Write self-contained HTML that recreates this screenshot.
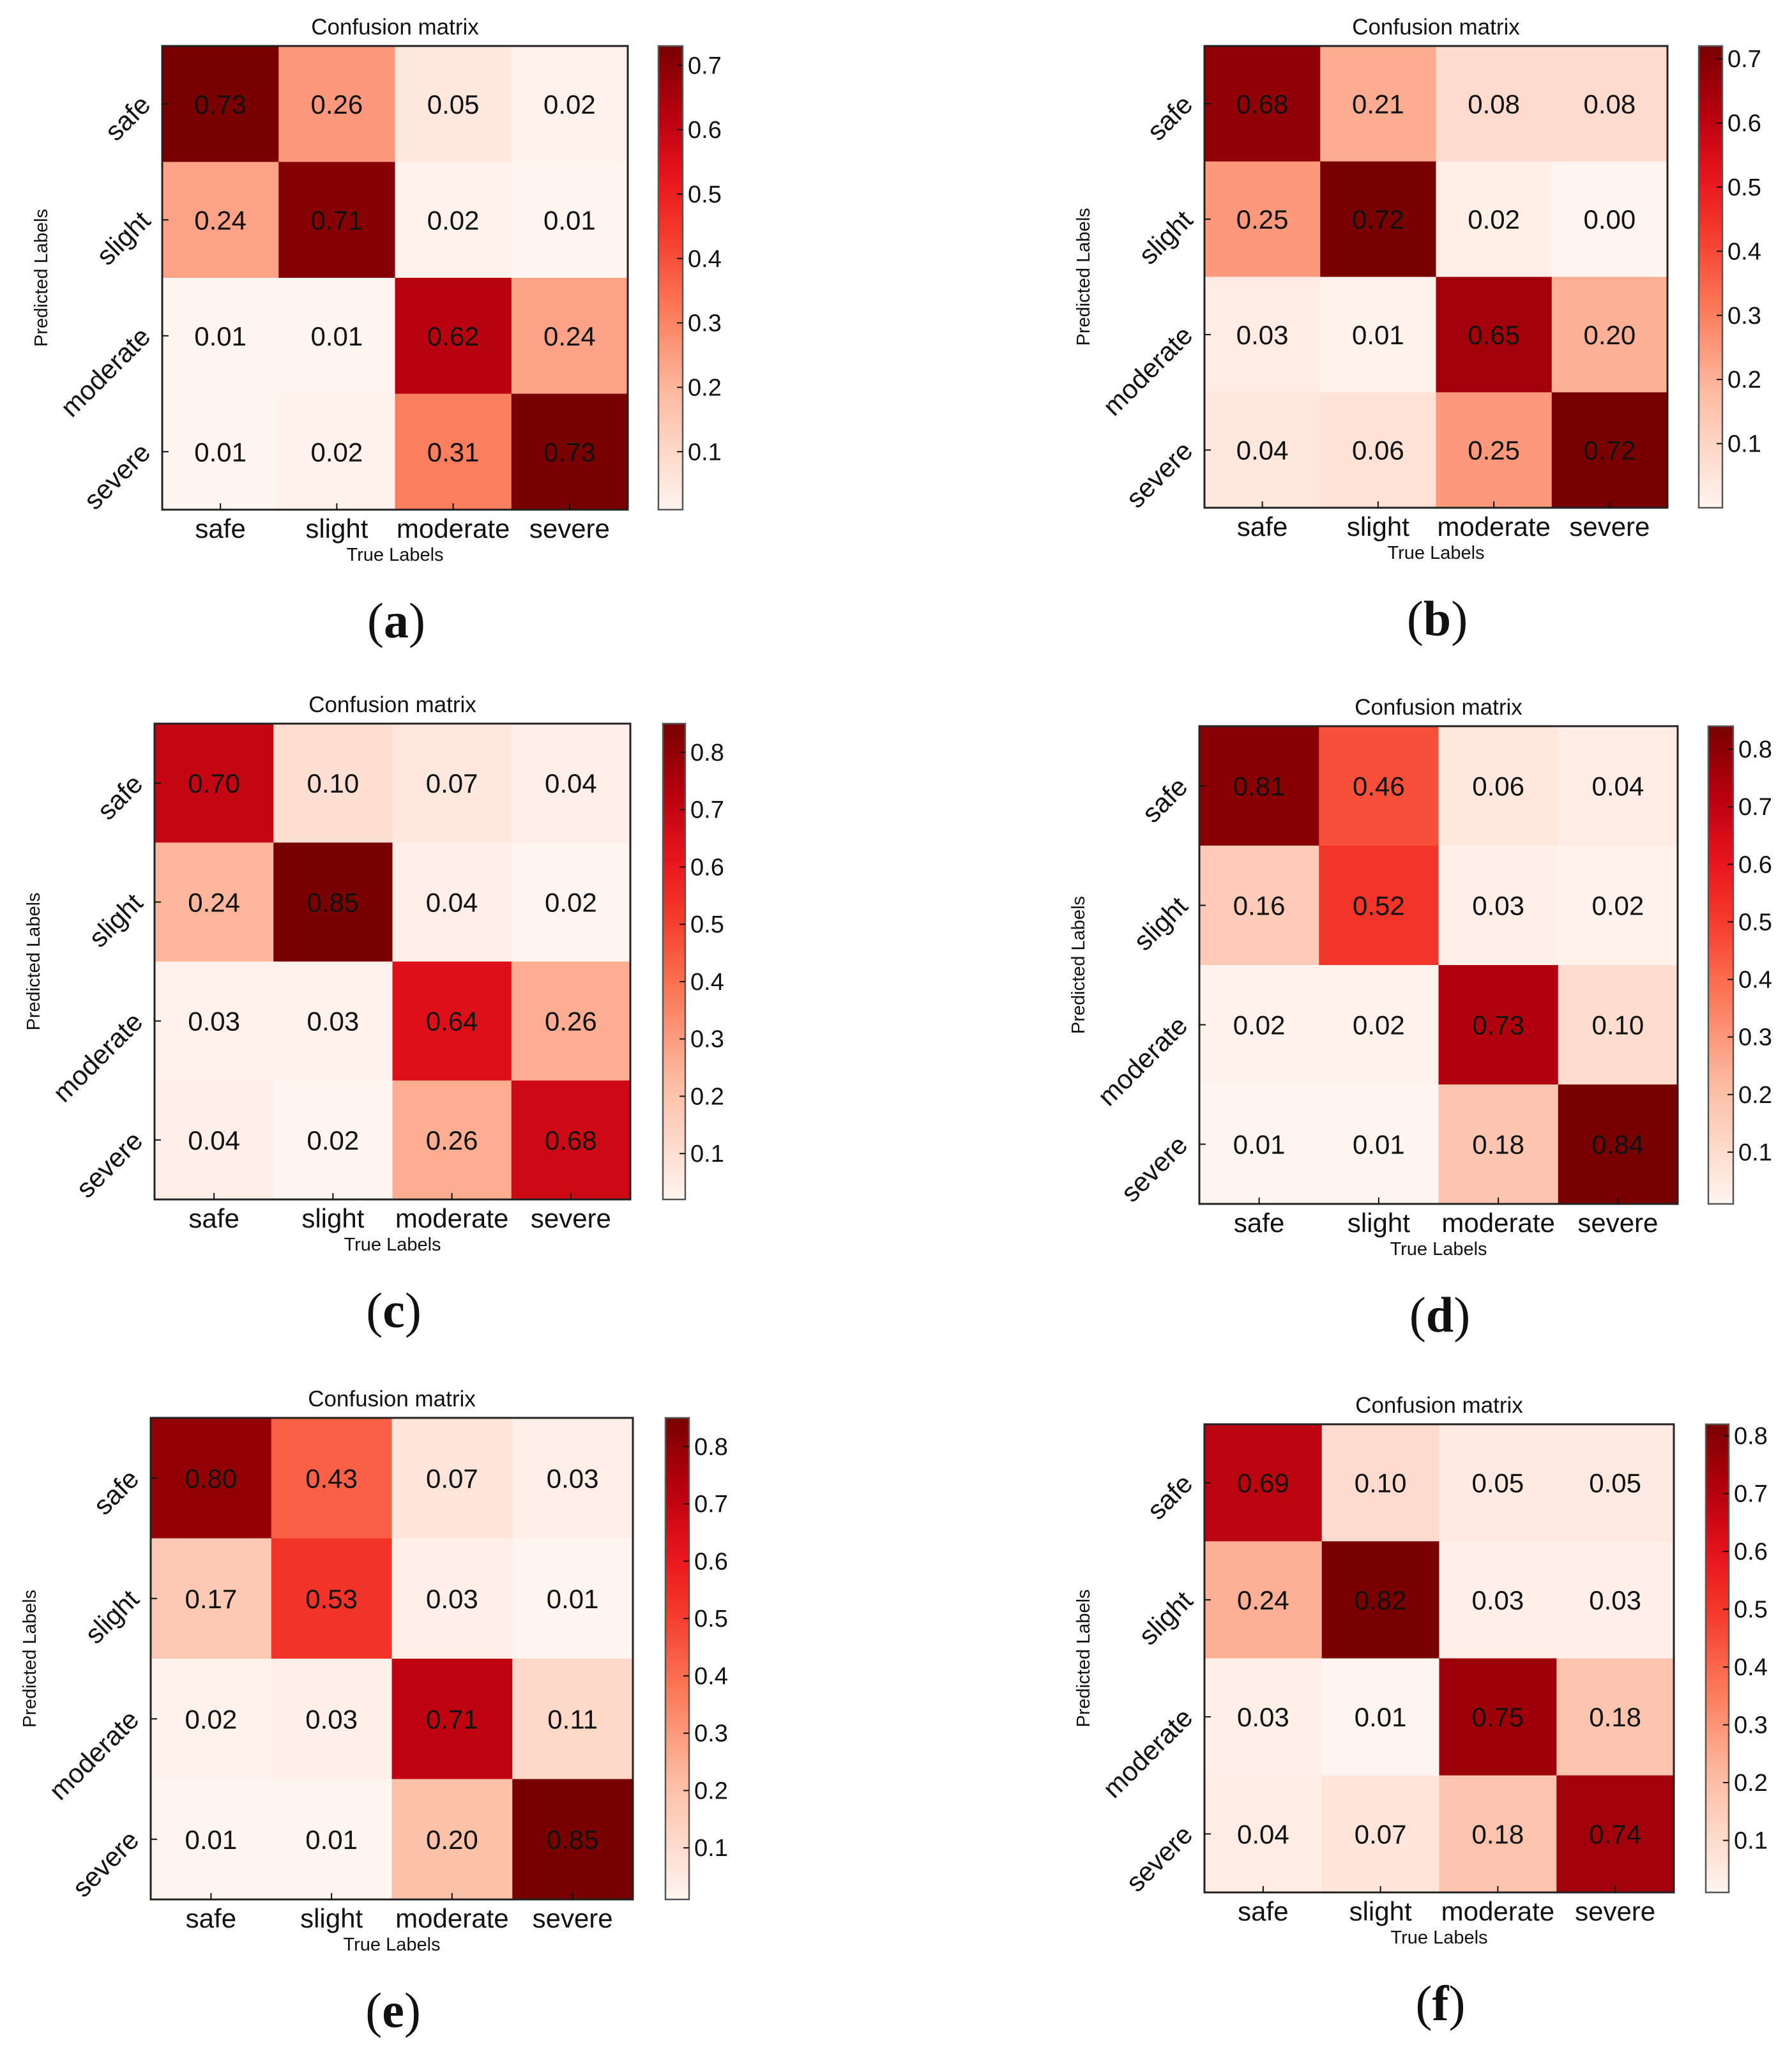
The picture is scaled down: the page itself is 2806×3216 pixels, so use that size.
<!DOCTYPE html>
<html><head><meta charset="utf-8"><style>
html,body{margin:0;padding:0;background:#fff;}
svg{display:block;}
text{font-family:"Liberation Sans","DejaVu Sans",sans-serif;fill:#111;}
</style></head><body>
<svg id="fig" width="2806" height="3216" viewBox="0 0 2806 3216" xmlns="http://www.w3.org/2000/svg"></svg>
<script>
const categories = ["safe","slight","moderate","severe"];
const dataA = [[0.73,0.26,0.05,0.02],[0.24,0.71,0.02,0.01],[0.01,0.01,0.62,0.24],[0.01,0.02,0.31,0.73]];
const dataB = [[0.68,0.21,0.08,0.08],[0.25,0.72,0.02,0.00],[0.03,0.01,0.65,0.20],[0.04,0.06,0.25,0.72]];
const dataC = [[0.70,0.10,0.07,0.04],[0.24,0.85,0.04,0.02],[0.03,0.03,0.64,0.26],[0.04,0.02,0.26,0.68]];
const dataD = [[0.81,0.46,0.06,0.04],[0.16,0.52,0.03,0.02],[0.02,0.02,0.73,0.10],[0.01,0.01,0.18,0.84]];
const dataE = [[0.80,0.43,0.07,0.03],[0.17,0.53,0.03,0.01],[0.02,0.03,0.71,0.11],[0.01,0.01,0.20,0.85]];
const dataF = [[0.69,0.10,0.05,0.05],[0.24,0.82,0.03,0.03],[0.03,0.01,0.75,0.18],[0.04,0.07,0.18,0.74]];
const ticksAB = [0.1,0.2,0.3,0.4,0.5,0.6,0.7];
const ticksCF = [0.1,0.2,0.3,0.4,0.5,0.6,0.7,0.8];
const panelLetters = ["a","b","c","d","e","f"];

const layout = [
 {d:dataA,t:ticksAB,x0:254,x1:983,y0:72,y1:798,c0:1031,c1:1069},
 {d:dataB,t:ticksAB,x0:1886,x1:2611,y0:72,y1:795,c0:2660,c1:2697},
 {d:dataC,t:ticksCF,x0:242,x1:987,y0:1133,y1:1878,c0:1038,c1:1073},
 {d:dataD,t:ticksCF,x0:1878,x1:2627,y0:1137,y1:1885,c0:2675,c1:2714},
 {d:dataE,t:ticksCF,x0:236,x1:991,y0:2220,y1:2974,c0:1042,c1:1079},
 {d:dataF,t:ticksCF,x0:1886,x1:2621,y0:2230,y1:2963,c0:2671,c1:2707}
];

const stops=[[0,[255,245,240]],[0.25,[252,187,161]],[0.45,[251,115,82]],[0.6,[244,57,42]],[0.72,[232,19,28]],[0.86,[180,0,14]],[1,[120,0,0]]];
function cmap(t){
  t=Math.max(0,Math.min(1,t));
  for(let i=1;i<stops.length;i++){
    if(t<=stops[i][0]){
      const a=stops[i-1],b=stops[i],f=(t-a[0])/(b[0]-a[0]);
      const c=a[1].map((v,k)=>Math.round(v+(b[1][k]-v)*f));
      return `rgb(${c[0]},${c[1]},${c[2]})`;
    }
  }
  return 'rgb(120,0,0)';
}
const NS="http://www.w3.org/2000/svg";
const svg=document.getElementById('fig');
function el(tag,attrs,parent,txt){
  const e=document.createElementNS(NS,tag);
  for(const k in attrs) e.setAttribute(k,attrs[k]);
  if(txt!==undefined) e.textContent=txt;
  (parent||svg).appendChild(e);
  return e;
}

layout.forEach((p,pi)=>{
  const g=el('g',{});
  
  
  const flat=p.d.flat();
  const vmin=Math.min(...flat), vmax=Math.max(...flat);
  const n=categories.length;
  const cw=(p.x1-p.x0)/n, ch=(p.y1-p.y0)/n;
  const xAt=j=>p.x0+cw*j, yAt=i=>p.y0+ch*i;
  p.d.forEach((row,i)=>row.forEach((v,j)=>{
    const r=el('rect',{x:xAt(j),y:yAt(i),width:cw+0.5,height:ch+0.5,fill:cmap((v-vmin)/(vmax-vmin))},g);
    
    
    const t=el('text',{x:xAt(j)+cw/2,y:yAt(i)+ch/2+15,'text-anchor':'middle','font-size':42},g,v.toFixed(2));
    
    
  }));
  const frame=el('rect',{x:p.x0,y:p.y0,width:p.x1-p.x0,height:p.y1-p.y0,fill:'none',stroke:'#222','stroke-width':3},g);
  
  
  categories.forEach((c,j)=>{
    const cx=xAt(j)+cw/2;
    el('line',{x1:cx,x2:cx,y1:p.y1,y2:p.y1-10,stroke:'#111','stroke-width':2},g);
    const t=el('text',{x:cx,y:p.y1+44,'text-anchor':'middle','font-size':42},g,c);
    
    
  });
  categories.forEach((c,i)=>{
    const cy=yAt(i)+ch/2;
    el('line',{x1:p.x0,x2:p.x0+10,y1:cy,y2:cy,stroke:'#111','stroke-width':2},g);
    const lx=p.x0-16, ly=cy+4;
    const t=el('text',{x:lx,y:ly,'text-anchor':'end','font-size':42,transform:`rotate(-45 ${lx} ${ly})`},g,c);
    
    
  });
  const mx=(p.x0+p.x1)/2, my=(p.y0+p.y1)/2;
  const title=el('text',{x:mx,y:p.y0-18,'text-anchor':'middle','font-size':35},g,'Confusion matrix');
  
  
  const xt=el('text',{x:mx,y:p.y1+80,'text-anchor':'middle','font-size':29},g,'True Labels');
  
  
  const yx=p.x0-180;
  const yt=el('text',{x:yx,y:my,'text-anchor':'middle','font-size':29,transform:`rotate(-90 ${yx} ${my})`},g,'Predicted Labels');
  
  
  // colorbar
  const defs=el('defs',{},g);
  const gid='grad'+pi;
  const lg=el('linearGradient',{id:gid,x1:0,y1:1,x2:0,y2:0},defs);
  for(let k=0;k<=20;k++) el('stop',{offset:k/20,'stop-color':cmap(k/20)},lg);
  const cb=el('rect',{x:p.c0,y:p.y0,width:p.c1-p.c0,height:p.y1-p.y0,fill:`url(#${gid})`,stroke:'#555','stroke-width':2.5},g);
  
  
  const cy=v=>p.y1-(v-vmin)/(vmax-vmin)*(p.y1-p.y0);
  p.t.forEach(v=>{
    const y=cy(v);
    el('line',{x1:p.c1-9,x2:p.c1,y1:y,y2:y,stroke:'#111','stroke-width':2},g);
    const t=el('text',{x:p.c1+8,y:y+13,'font-size':38},g,v.toFixed(1));
    
    
  });
  // panel label
  const lbl=el('text',{x:mx+2,y:p.y1+200,'text-anchor':'middle','font-size':78,style:'font-family:"Liberation Serif",serif'},g);
  
  
  el('tspan',{},lbl,'(');
  el('tspan',{'font-weight':'bold'},lbl,panelLetters[pi]);
  el('tspan',{},lbl,')');
});
</script>
</body></html>
